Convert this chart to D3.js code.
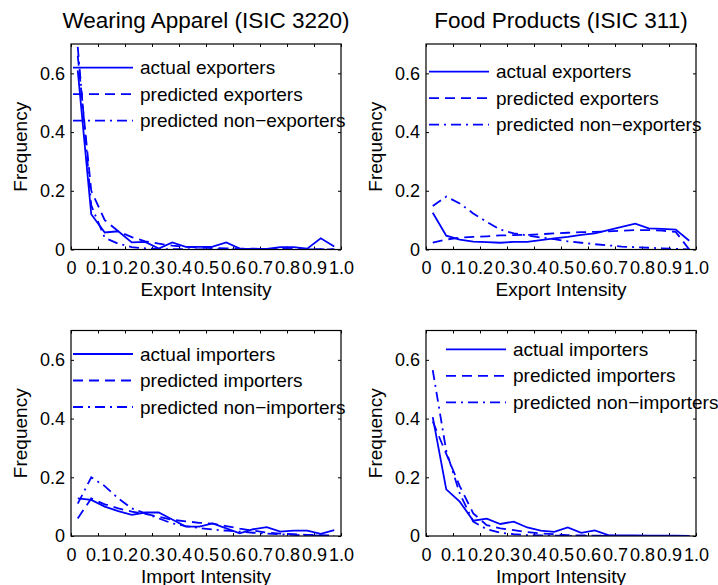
<!DOCTYPE html>
<html>
<head>
<meta charset="utf-8">
<script src="https://cdn.jsdelivr.net/npm/d3@7"></script>
<style>
    body { margin: 0; background: #fff; }
    svg { display: block; font-family: "Liberation Sans", Arial, sans-serif; }
    .tick text { fill: #000; }
</style>
</head>
<body>
<svg id="chart" width="718" height="585"></svg>
<script>
// bin centres on the intensity axis
const intensity= [0.025, 0.075, 0.125, 0.175, 0.225, 0.275, 0.325, 0.375, 0.425, 0.475,
                  0.525, 0.575, 0.625, 0.675, 0.725, 0.775, 0.825, 0.875, 0.925, 0.975]

const xTicks= [0, 0.1, 0.2, 0.3, 0.4, 0.5, 0.6, 0.7, 0.8, 0.9, 1.0]
const xTickLabels= ["0", "0.1", "0.2", "0.3", "0.4", "0.5", "0.6", "0.7", "0.8", "0.9", "1.0"]
const yTicks= [0, 0.2, 0.4, 0.6]
const yTickLabels= ["0", "0.2", "0.4", "0.6"]

// wearing apparel, exports
const apparelExpActual= [0.61, 0.12, 0.058, 0.062, 0.024, 0.026, 0.003, 0.024, 0.009, 0.009,
                         0.01, 0.024, 0.003, 0.002, 0.002, 0.008, 0.008, 0.003, 0.038, 0.01]
const apparelExpPred= [0.66, 0.2, 0.1, 0.062, 0.042, 0.028, 0.02, 0.013, 0.009, 0.007,
                       0.005, 0.004, 0.003, 0.003, 0.002, 0.002, 0.001, 0.001, 0.001, 0.0]
const apparelExpNon= [0.69, 0.15, 0.04, 0.02, 0.008, 0.004, 0.002, 0.001, 0.001, 0.0,
                      0.0, 0.0, 0.0, 0.0, 0.0, 0.0, 0.0, 0.0, 0.0, 0.0]

// food products, exports
const foodExpActual= [0.125, 0.047, 0.034, 0.027, 0.025, 0.023, 0.026, 0.026, 0.032, 0.038,
                      0.043, 0.05, 0.055, 0.066, 0.077, 0.088, 0.072, 0.07, 0.068, 0.03]
const foodExpPred= [0.023, 0.034, 0.04, 0.043, 0.045, 0.048, 0.049, 0.05, 0.052, 0.055,
                    0.057, 0.059, 0.06, 0.062, 0.064, 0.066, 0.066, 0.064, 0.06, 0.0]
const foodExpNon= [0.148, 0.18, 0.157, 0.123, 0.094, 0.068, 0.055, 0.048, 0.041, 0.035,
                   0.028, 0.023, 0.018, 0.014, 0.01, 0.008, 0.006, 0.004, 0.002, 0.0]

// wearing apparel, imports
const apparelImpActual= [0.128, 0.123, 0.1, 0.085, 0.072, 0.08, 0.08, 0.056, 0.032, 0.032,
                         0.043, 0.026, 0.009, 0.023, 0.03, 0.015, 0.018, 0.018, 0.007, 0.02]
const apparelImpPred= [0.06, 0.128, 0.108, 0.094, 0.083, 0.075, 0.066, 0.055, 0.05, 0.045,
                       0.042, 0.034, 0.025, 0.018, 0.012, 0.008, 0.006, 0.004, 0.003, 0.001]
const apparelImpNon= [0.11, 0.2, 0.17, 0.128, 0.094, 0.077, 0.06, 0.043, 0.034, 0.027,
                      0.022, 0.018, 0.015, 0.011, 0.008, 0.006, 0.004, 0.002, 0.001, 0.0]

// food products, imports
const foodImpActual= [0.405, 0.159, 0.117, 0.052, 0.059, 0.041, 0.049, 0.029, 0.018, 0.014,
                      0.029, 0.011, 0.019, 0.003, 0.002, 0.002, 0.001, 0.001, 0.001, 0.0]
const foodImpPred= [0.39, 0.28, 0.17, 0.077, 0.037, 0.026, 0.02, 0.013, 0.009, 0.006,
                    0.003, 0.002, 0.001, 0.001, 0.0, 0.0, 0.0, 0.0, 0.0, 0.0]
const foodImpNon= [0.565, 0.29, 0.145, 0.049, 0.023, 0.011, 0.006, 0.003, 0.002, 0.001,
                   0.0, 0.0, 0.0, 0.0, 0.0, 0.0, 0.0, 0.0, 0.0, 0.0]

const titles= ["Wearing Apparel (ISIC 3220)", "Food Products (ISIC 311)"]
const xLabels= ["Export Intensity", "Import Intensity"]
const expLegend= ["actual exporters", "predicted exporters", "predicted non\u2212exporters"]
const impLegend= ["actual importers", "predicted importers", "predicted non\u2212importers"]

const svg= d3.select("#chart")
const W= 270, H= 205.5
const dashes= [null, "10,6", "10,5,2,5"]

function drawPanel({left, top, title=null, xlabel, series, legend, legendX, legendY}) {
    let x= d3.scaleLinear().domain([0, 1]).range([left, left + W])
    let y= d3.scaleLinear().domain([0, 0.7]).range([top + H, top])
    let g= svg.append("g")

    // clip so the lines stay inside the box
    let clipId= "clip" + left + "_" + Math.round(top)
    g.append("clipPath").attr("id", clipId)
        .append("rect").attr("x", left).attr("y", top).attr("width", W).attr("height", H)

    // axes, ticks point inward on all four sides
    let bottom= g.append("g").attr("transform", `translate(0,${top + H})`)
        .call(d3.axisBottom(x).tickValues(xTicks).tickFormat((d, i) => xTickLabels[i])
            .tickSize(-3).tickPadding(12))
    g.append("g").attr("transform", `translate(0,${top})`)
        .call(d3.axisTop(x).tickValues(xTicks).tickFormat("").tickSize(-3))
    let leftAx= g.append("g").attr("transform", `translate(${left},0)`)
        .call(d3.axisLeft(y).tickValues(yTicks).tickFormat((d, i) => yTickLabels[i])
            .tickSize(-3).tickPadding(6))
    g.append("g").attr("transform", `translate(${left + W},0)`)
        .call(d3.axisRight(y).tickValues(yTicks).tickFormat("").tickSize(-3))
    g.selectAll(".domain").remove()
    g.selectAll(".tick line").attr("stroke", "#000")
    bottom.selectAll("text").attr("font-size", 18)
    leftAx.selectAll("text").attr("font-size", 18)

    // data lines
    let line= d3.line().x((d, i) => x(intensity[i])).y(d => y(d))
    series.forEach((s, k) => {
        g.append("path")
            .attr("clip-path", `url(#${clipId})`)
            .attr("d", line(s))
            .attr("fill", "none")
            .attr("stroke", "#0000ff")
            .attr("stroke-width", 1.8)
            .attr("stroke-dasharray", dashes[k])
    })

    // box
    g.append("rect")
        .attr("x", left).attr("y", top).attr("width", W).attr("height", H)
        .attr("fill", "none").attr("stroke", "#000").attr("stroke-width", 1.2)

    // legend (no frame)
    legend.forEach((txt, k) => {
        let ly= legendY + k*26.5
        g.append("line")
            .attr("x1", legendX).attr("x2", legendX + 60)
            .attr("y1", ly).attr("y2", ly)
            .attr("stroke", "#0000ff").attr("stroke-width", 1.8)
            .attr("stroke-dasharray", dashes[k])
        g.append("text")
            .attr("x", legendX + 67).attr("y", ly).attr("dy", "0.35em")
            .attr("font-size", 19)
            .text(txt)
    })

    // labels
    if (title !== null) {
        g.append("text")
            .attr("x", left + W/2).attr("y", top - 16)
            .attr("text-anchor", "middle").attr("font-size", 22.5)
            .text(title)
    }
    g.append("text")
        .attr("x", left + W/2).attr("y", top + H + 46.5)
        .attr("text-anchor", "middle").attr("font-size", 19)
        .text(xlabel)
    g.append("text")
        .attr("transform", `translate(${left - 44},${top + H/2}) rotate(-90)`)
        .attr("text-anchor", "middle").attr("font-size", 19)
        .text("Frequency")
}

drawPanel({left: 71, top: 44, title: titles[0], xlabel: xLabels[0],
    series: [apparelExpActual, apparelExpPred, apparelExpNon],
    legend: expLegend, legendX: 73, legendY: 67.7})
drawPanel({left: 426, top: 44, title: titles[1], xlabel: xLabels[0],
    series: [foodExpActual, foodExpPred, foodExpNon],
    legend: expLegend, legendX: 429, legendY: 71.7})
drawPanel({left: 71, top: 330.5, xlabel: xLabels[1],
    series: [apparelImpActual, apparelImpPred, apparelImpNon],
    legend: impLegend, legendX: 73, legendY: 354})
drawPanel({left: 426, top: 330.5, xlabel: xLabels[1],
    series: [foodImpActual, foodImpPred, foodImpNon],
    legend: impLegend, legendX: 446, legendY: 349.3})
</script>
</body>
</html>
